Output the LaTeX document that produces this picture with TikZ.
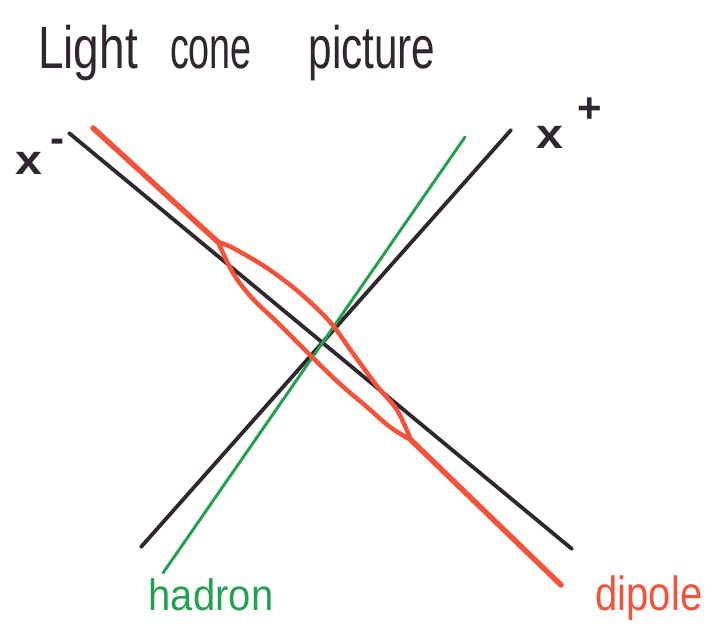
\documentclass[tikz,border=0pt]{standalone}
\usepackage{fontspec}
\setmainfont{Liberation Sans}
\definecolor{ink}{HTML}{30262F}
\definecolor{grn}{HTML}{25A050}
\definecolor{rd}{HTML}{F2533A}
\begin{document}
\begin{tikzpicture}[x=1pt,y=-1pt,
  blackline/.style={ink,line width=3.8pt,line cap=round},
  greenline/.style={grn,line width=3pt,line cap=round},
  redline/.style={rd,line width=5.5pt,line cap=round,line join=round},
  title/.style={ink,font=\fontsize{46}{50}\selectfont,anchor=base,inner sep=0pt},
  axislabel/.style={ink,font=\fontsize{42}{44}\selectfont\bfseries,anchor=base,inner sep=0pt},
  lbl/.style={font=\fontsize{40}{44}\selectfont,anchor=base,inner sep=0pt}]
\useasboundingbox (0,0) rectangle (719,633);
% title
\node[title] (t1) at (88,68) {\scalebox{1}[1.3]{Light}};
\node[title] (t2) at (211,68) {\scalebox{0.82}[1.3]{cone}};
\node[title] (t3) at (372,68) {\scalebox{0.92}[1.3]{picture}};
% axis labels
\node[axislabel] (xm) at (29,174) {\scalebox{1.15}[1]{x}};
\node[axislabel] (xmsup) at (57,152) {-};
\node[axislabel] (xp) at (550,148) {\scalebox{1.15}[1]{x}};
\node[axislabel] (xpsup) at (590,122) {+};
% endpoints
\coordinate (xmA) at (69,133);
\coordinate (xmB) at (572,549);
\coordinate (xpA) at (141,547);
\coordinate (xpB) at (511,130);
\coordinate (hA) at (163,573);
\coordinate (hB) at (465,137);
\coordinate (dA) at (93,128);
\coordinate (dB) at (561,585);
\coordinate (eA) at (218,242);
\coordinate (eB) at (411,440);
% lines
\draw[blackline] (xmA) -- (xmB);
\draw[blackline] (xpA) -- (xpB);
\draw[greenline] (hA) -- (hB);
\draw[redline] (dA) -- (eA);
\draw[redline] (eB) -- (dB);
% dipole lens
\draw[redline,line width=4.5pt] plot[smooth,tension=0.55] coordinates
  {(eA) (233,248) (267,268) (300,293) (330,322) (352,352) (377,386) (397,410) (eB)};
\draw[redline,line width=4.5pt] plot[smooth,tension=0.55] coordinates
  {(eB) (390,427) (367,407) (340,384) (310,355) (278,323) (252,298) (233,273) (eA)};
% labels
\node[lbl,grn] (had) at (211,610) {\scalebox{1}[1.1]{hadron}};
\node[lbl,rd] (dip) at (649,610) {\scalebox{1}[1.2]{dipole}};
\end{tikzpicture}
\end{document}
